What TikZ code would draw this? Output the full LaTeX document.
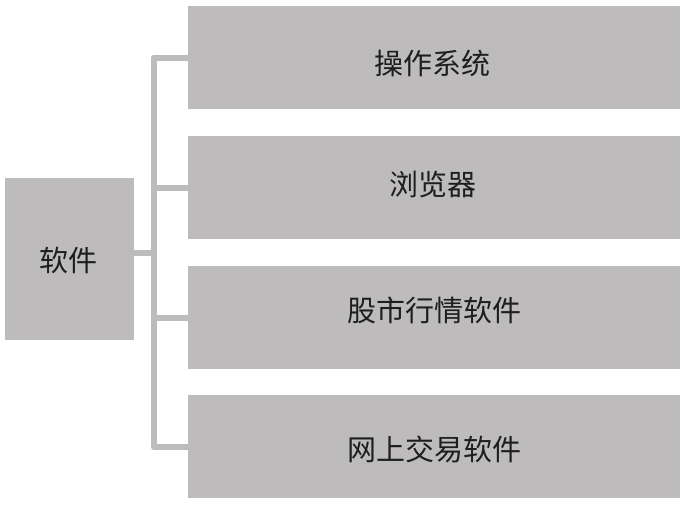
\documentclass[tikz,border=0pt]{standalone}
\usepackage{fontspec}
\newfontfamily\cjk{Noto Sans CJK SC}
\definecolor{boxgray}{RGB}{189,187,188}
\definecolor{txt}{RGB}{30,30,30}
\tikzset{
  box/.style={fill=boxgray, draw=none, inner sep=0pt, minimum width=492pt, minimum height=103pt},
  lbox/.style={fill=boxgray, draw=none, inner sep=0pt, minimum width=129pt, minimum height=162pt},
  lbl/.style={text=txt, font=\cjk\fontsize{29pt}{29pt}\selectfont, inner sep=0pt},
  conn/.style={draw=boxgray, line width=6pt, line join=round}
}
\begin{document}
\begin{tikzpicture}[x=1pt,y=-1pt]
\useasboundingbox (0,0) rectangle (686,504);
\node[lbox] (L) at (69.5,259) {};
\node[box] (R1) at (434,57.5) {};
\node[box] (R2) at (434,187.5) {};
\node[box] (R3) at (434,317.5) {};
\node[box] (R4) at (434,446.5) {};
\coordinate (T) at (153.7,252.5);
\draw[conn] ([xshift=1pt]R1.west) -- ++(-35.3,0) |- ([xshift=1pt]R4.west);
\draw[conn] ([xshift=1pt]R2.west) -- ++(-35.3,0);
\draw[conn] ([xshift=1pt]R3.west) -- ++(-35.3,0);
\draw[conn] ([yshift=6.5pt,xshift=-1pt]L.east) -- (T);
\node[lbl] (t0) at (68.5,260) {软件};
\node[lbl] (t1) at (432,63) {操作系统};
\node[lbl] (t2) at (433,184) {浏览器};
\node[lbl] (t3) at (434,310) {股市行情软件};
\node[lbl] (t4) at (434,449) {网上交易软件};
\end{tikzpicture}
\end{document}
